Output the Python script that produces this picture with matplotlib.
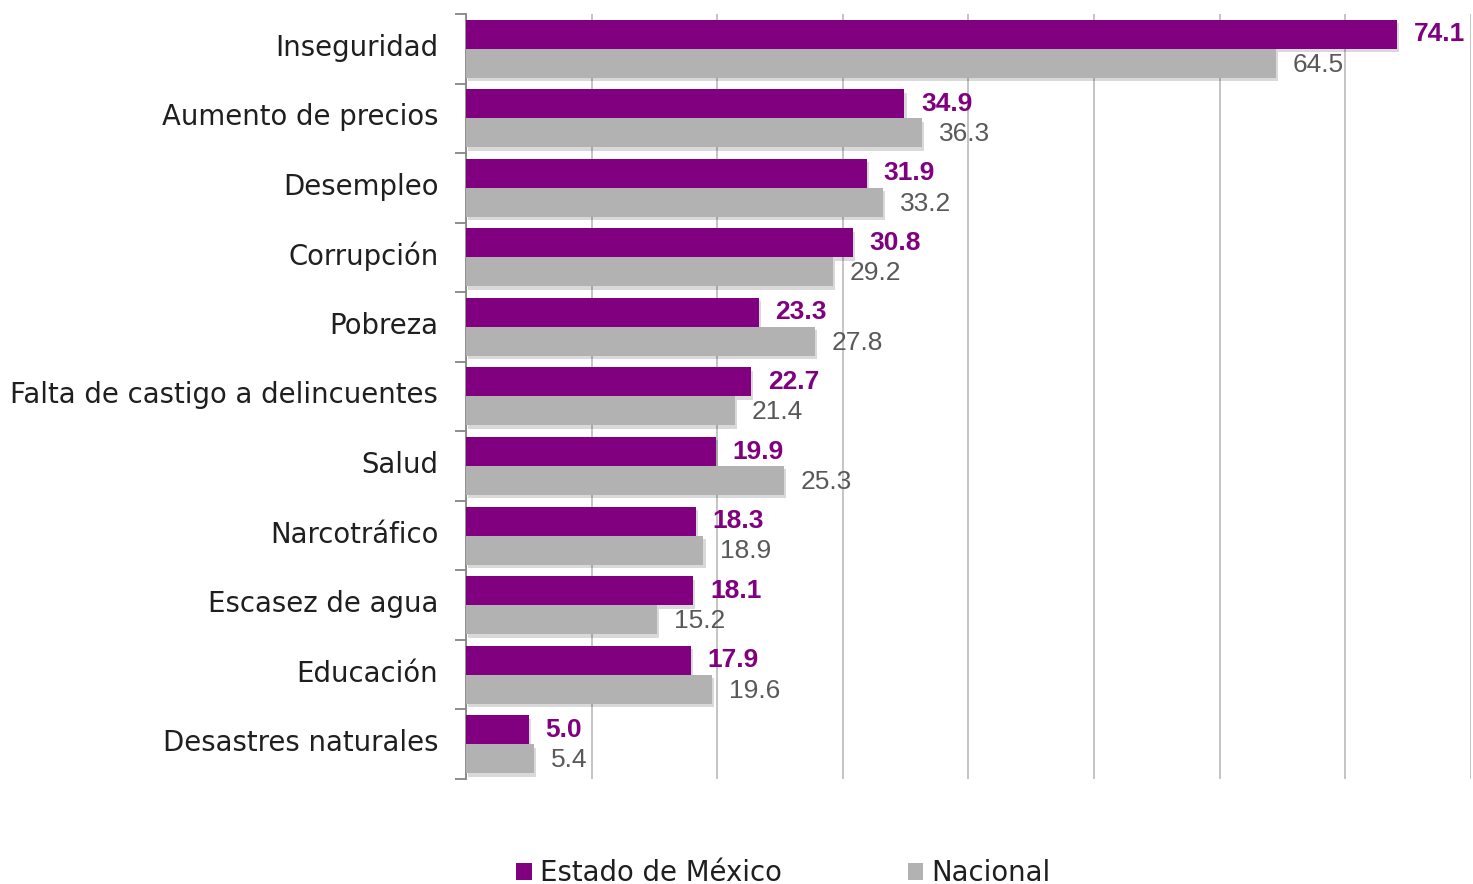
import matplotlib
matplotlib.use("Agg")
import matplotlib.pyplot as plt
import matplotlib.patheffects as pe
import matplotlib.transforms as mtransforms
from matplotlib.patches import Patch
import numpy as np

categories = ["Inseguridad", "Aumento de precios", "Desempleo", "Corrupción", "Pobreza",
              "Falta de castigo a delincuentes", "Salud", "Narcotráfico", "Escasez de agua",
              "Educación", "Desastres naturales"]
estado = [74.1, 34.9, 31.9, 30.8, 23.3, 22.7, 19.9, 18.3, 18.1, 17.9, 5.0]
nacional = [64.5, 36.3, 33.2, 29.2, 27.8, 21.4, 25.3, 18.9, 15.2, 19.6, 5.4]
series_names = ["Estado de México", "Nacional"]

PURPLE = "#800080"
GRAY = "#B2B2B2"
plt.rcParams['font.family'] = ['Liberation Sans', 'DejaVu Sans']
LABEL_FONT = ['DejaVu Sans']

fig = plt.figure(figsize=(14.73, 8.84), dpi=100)
ax = fig.add_axes([0.3164, 0.1188, 0.6822, 0.8654])

y = np.arange(len(categories))
h = 0.417
shadow = [pe.SimplePatchShadow(offset=(1.5, -2.5), alpha=0.15, shadow_rgbFace="#000000"), pe.Normal()]
b1 = ax.barh(y - h / 2, estado, height=h, color=PURPLE, zorder=3)
b2 = ax.barh(y + h / 2, nacional, height=h, color=GRAY, zorder=3)
for b in list(b1) + list(b2):
    b.set_path_effects(shadow)

for yi, v in zip(y, estado):
    ax.annotate(f"{v:.1f}", (v, yi - h / 2), xytext=(12, 0), textcoords="offset points",
                va="center", ha="left", fontsize=19, fontweight="bold", color=PURPLE, zorder=5)
for yi, v in zip(y, nacional):
    ax.annotate(f"{v:.1f}", (v, yi + h / 2), xytext=(12, -1), textcoords="offset points",
                va="center", ha="left", fontsize=19, color="#595959", zorder=5)

ax.set_xlim(0, 80)
ax.set_ylim(len(categories) - 0.5, -0.5)
ax.set_xticks(np.arange(0, 81, 10))
ax.set_xticklabels([])
ax.tick_params(axis="x", length=0)
ax.grid(axis="x", color="#BFBFBF", linewidth=1.3, zorder=0)
ax.set_axisbelow(True)

ax.set_yticks(y)
ax.set_yticklabels(categories, fontsize=19.8, color="#1f1f1f", family=LABEL_FONT)
ax.set_yticks(np.arange(-0.5, len(categories), 1), minor=True)
ax.tick_params(axis="y", which="major", length=0, pad=20)
ax.tick_params(axis="y", which="minor", length=8, width=1.3, color="#868686", direction="out")
shift = mtransforms.ScaledTranslation(0, 4 / 100, fig.dpi_scale_trans)
for lbl in ax.get_yticklabels():
    lbl.set_transform(lbl.get_transform() + shift)

for s in ["top", "right", "bottom"]:
    ax.spines[s].set_visible(False)
ax.spines["left"].set_color("#868686")
ax.spines["left"].set_linewidth(1.3)

handles = [Patch(facecolor=PURPLE), Patch(facecolor=GRAY)]
fig.legend(handles, series_names, loc="center", bbox_to_anchor=(0.532, 0.0125), ncol=2,
           frameon=False, prop={'family': LABEL_FONT, 'size': 19.8}, handlelength=0.55,
           handleheight=0.55, handletextpad=0.3, columnspacing=4.6, labelcolor="#1f1f1f")

fig.savefig("out.png", dpi=100)
